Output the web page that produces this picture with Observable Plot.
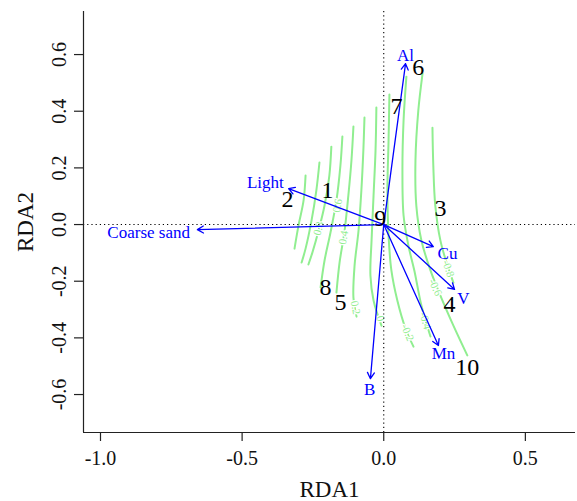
<!DOCTYPE html>
<html>
<head>
<meta charset="utf-8">
<script src="https://cdn.jsdelivr.net/npm/d3@7"></script>
<script src="https://cdn.jsdelivr.net/npm/@observablehq/plot@0.6"></script>
<style>
  html, body { margin: 0; padding: 0; background: #ffffff; }
  #chart svg { display: block; }
</style>
</head>
<body>
<div id="chart"></div>
<script>
// ---- Data ----
const siteNames = ["1", "2", "3", "4", "5", "6", "7", "8", "9", "10"];
const siteX = [-0.199, -0.340, 0.200, 0.232, -0.153, 0.122, 0.045, -0.206, -0.012, 0.295];
const siteY = [0.120, 0.088, 0.056, -0.282, -0.275, 0.554, 0.417, -0.222, 0.021, -0.505];

const envNames = ["Al", "Light", "Coarse sand", "Cu", "V", "Mn", "B"];
const envX = [0.077, -0.336, -0.658, 0.175, 0.250, 0.193, -0.047];
const envY = [0.568, 0.127, -0.018, -0.078, -0.229, -0.427, -0.544];
const envLabelX = [0.077, -0.418, -0.830, 0.225, 0.281, 0.211, -0.050];
const envLabelY = [0.597, 0.148, -0.028, -0.102, -0.261, -0.455, -0.582];

// fitted-surface contour lines (level, then traced points)
const contourLevels = [1.2, 1.0, 0.8, 0.6, 0.4, 0.2, 0, -0.2, -0.4, -0.6, -0.8];
const contourPaths = [
  [[-0.276,0.173],[-0.283,0.085],[-0.301,-0.004],[-0.315,-0.085]],
  [[-0.227,0.219],[-0.238,0.120],[-0.255,0.014],[-0.276,-0.085],[-0.290,-0.134]],
  [[-0.185,0.275],[-0.192,0.173],[-0.209,0.067],[-0.230,-0.021],[-0.252,-0.099],[-0.266,-0.141]],
  [[-0.146,0.311],[-0.153,0.208],[-0.167,0.085],[-0.188,-0.028],[-0.209,-0.127],[-0.223,-0.222]],
  [[-0.107,0.346],[-0.114,0.226],[-0.125,0.102],[-0.139,-0.028],[-0.156,-0.134],[-0.167,-0.240]],
  [[-0.068,0.378],[-0.072,0.261],[-0.079,0.120],[-0.089,-0.021],[-0.103,-0.145],[-0.107,-0.258],[-0.096,-0.325]],
  [[-0.026,0.413],[-0.029,0.261],[-0.036,0.102],[-0.043,-0.056],[-0.047,-0.180],[-0.036,-0.268],[-0.008,-0.357]],
  [[0.020,0.459],[0.017,0.297],[0.013,0.120],[0.017,-0.039],[0.027,-0.162],[0.048,-0.268],[0.077,-0.367],[0.105,-0.431]],
  [[0.080,0.522],[0.070,0.367],[0.066,0.191],[0.070,0.032],[0.087,-0.074],[0.108,-0.162],[0.133,-0.286],[0.165,-0.395]],
  [[0.137,0.533],[0.122,0.402],[0.112,0.226],[0.115,0.067],[0.133,-0.056],[0.165,-0.162],[0.200,-0.251],[0.246,-0.357],[0.295,-0.462]],
  [[0.172,0.342],[0.175,0.208],[0.182,0.067],[0.200,-0.056],[0.225,-0.145],[0.246,-0.205]]
];

const contourLabelText = ["0.8", "0.6", "0.4", "0.2", "0", "-0.2", "-0.4", "-0.6", "-0.8"];
const contourLabelX = [-0.230, -0.163, -0.142, -0.100, -0.012, 0.084, 0.147, 0.182, 0.228];
const contourLabelY = [-0.014, 0.067, -0.046, -0.293, -0.332, -0.381, -0.339, -0.222, -0.155];
const contourLabelAngle = [-76, -79, -80, 80, 72, 68, 74, 65, 71];

const xTicks = [-1.0, -0.5, 0.0, 0.5];
const yTicks = [-0.6, -0.4, -0.2, 0.0, 0.2, 0.4, 0.6];
const xTitle = "RDA1";
const yTitle = "RDA2";

// ---- Build tables for the library ----
const xDomain = [-1.060, 0.677];
const yDomain = [-0.734, 0.752];
const fmt = d => (Math.abs(d) < 1e-9 ? 0 : d).toFixed(1);

const sites = siteNames.map((n, i) => ({name: n, x: siteX[i], y: siteY[i]}));
const env = envNames.map((n, i) => ({name: n, x: envX[i], y: envY[i], lx: envLabelX[i], ly: envLabelY[i]}));
const contourPts = contourPaths.flatMap((path, i) =>
  path.map(([x, y]) => ({level: contourLevels[i], x, y})));
const contourLabels = contourLabelText.map((t, i) => ({
  t, x: contourLabelX[i], y: contourLabelY[i], a: contourLabelAngle[i]}));

const green = "#90EE90";
const blue = "#0000FF";
const serif = "'Liberation Serif', 'Times New Roman', serif";

const chart = Plot.plot({
  width: 577,
  height: 501,
  marginLeft: 83,
  marginRight: 2,
  marginTop: 11,
  marginBottom: 69,
  style: {fontFamily: serif, background: "#ffffff", overflow: "visible"},
  x: {domain: xDomain},
  y: {domain: yDomain},
  marks: [
    // contour lines of the fitted surface
    Plot.line(contourPts, {x: "x", y: "y", z: "level", stroke: green, strokeWidth: 2, curve: "catmull-rom"}),
    // contour labels (with a white gap around them like R's contour)
    Plot.text(contourLabels, {x: "x", y: "y", text: "t", rotate: "a", fill: green, stroke: "#ffffff",
      strokeWidth: 2.5, fontSize: 11, fontFamily: serif}),
    // dotted zero lines
    Plot.ruleX([0], {stroke: "#000", strokeWidth: 1.1, strokeDasharray: "1.2,3"}),
    Plot.ruleY([0], {stroke: "#000", strokeWidth: 1.1, strokeDasharray: "1.2,3"}),
    // axes (R "l" box)
    Plot.ruleX([xDomain[0]], {stroke: "#222", strokeWidth: 1.2}),
    Plot.ruleY([yDomain[0]], {stroke: "#222", strokeWidth: 1.2}),
    Plot.axisX({ticks: xTicks, tickSize: 9, tickFormat: () => "", label: null, stroke: "#222", strokeWidth: 1.2}),
    Plot.axisY({ticks: yTicks, tickSize: 9, tickFormat: () => "", label: null, stroke: "#222", strokeWidth: 1.2}),
    Plot.text(xTicks, {x: d => d, y: yDomain[0], dy: 26, text: fmt, fontSize: 20, fill: "#111", fontFamily: serif}),
    Plot.text(yTicks, {x: xDomain[0], y: d => d, dx: -24, rotate: -90, text: fmt, fontSize: 20, fill: "#111", fontFamily: serif}),
    Plot.text([xTitle], {x: (xDomain[0] + xDomain[1]) / 2, y: yDomain[0], dy: 57, text: d => d, fontSize: 23, fill: "#111", fontFamily: serif}),
    Plot.text([yTitle], {x: xDomain[0], y: (yDomain[0] + yDomain[1]) / 2, dx: -58, rotate: -90, text: d => d, fontSize: 23, fill: "#111", fontFamily: serif}),
    // environmental arrows
    Plot.arrow(env, {x1: 0, y1: 0, x2: "x", y2: "y", stroke: blue, strokeWidth: 1.3, headLength: 8, headAngle: 60}),
    Plot.text(env, {x: "lx", y: "ly", text: "name", fill: blue, fontSize: 17, fontFamily: serif}),
    // site scores
    Plot.text(sites, {x: "x", y: "y", text: "name", fill: "#000", fontSize: 24, fontFamily: serif})
  ]
});

document.getElementById("chart").appendChild(chart);
</script>
</body>
</html>
